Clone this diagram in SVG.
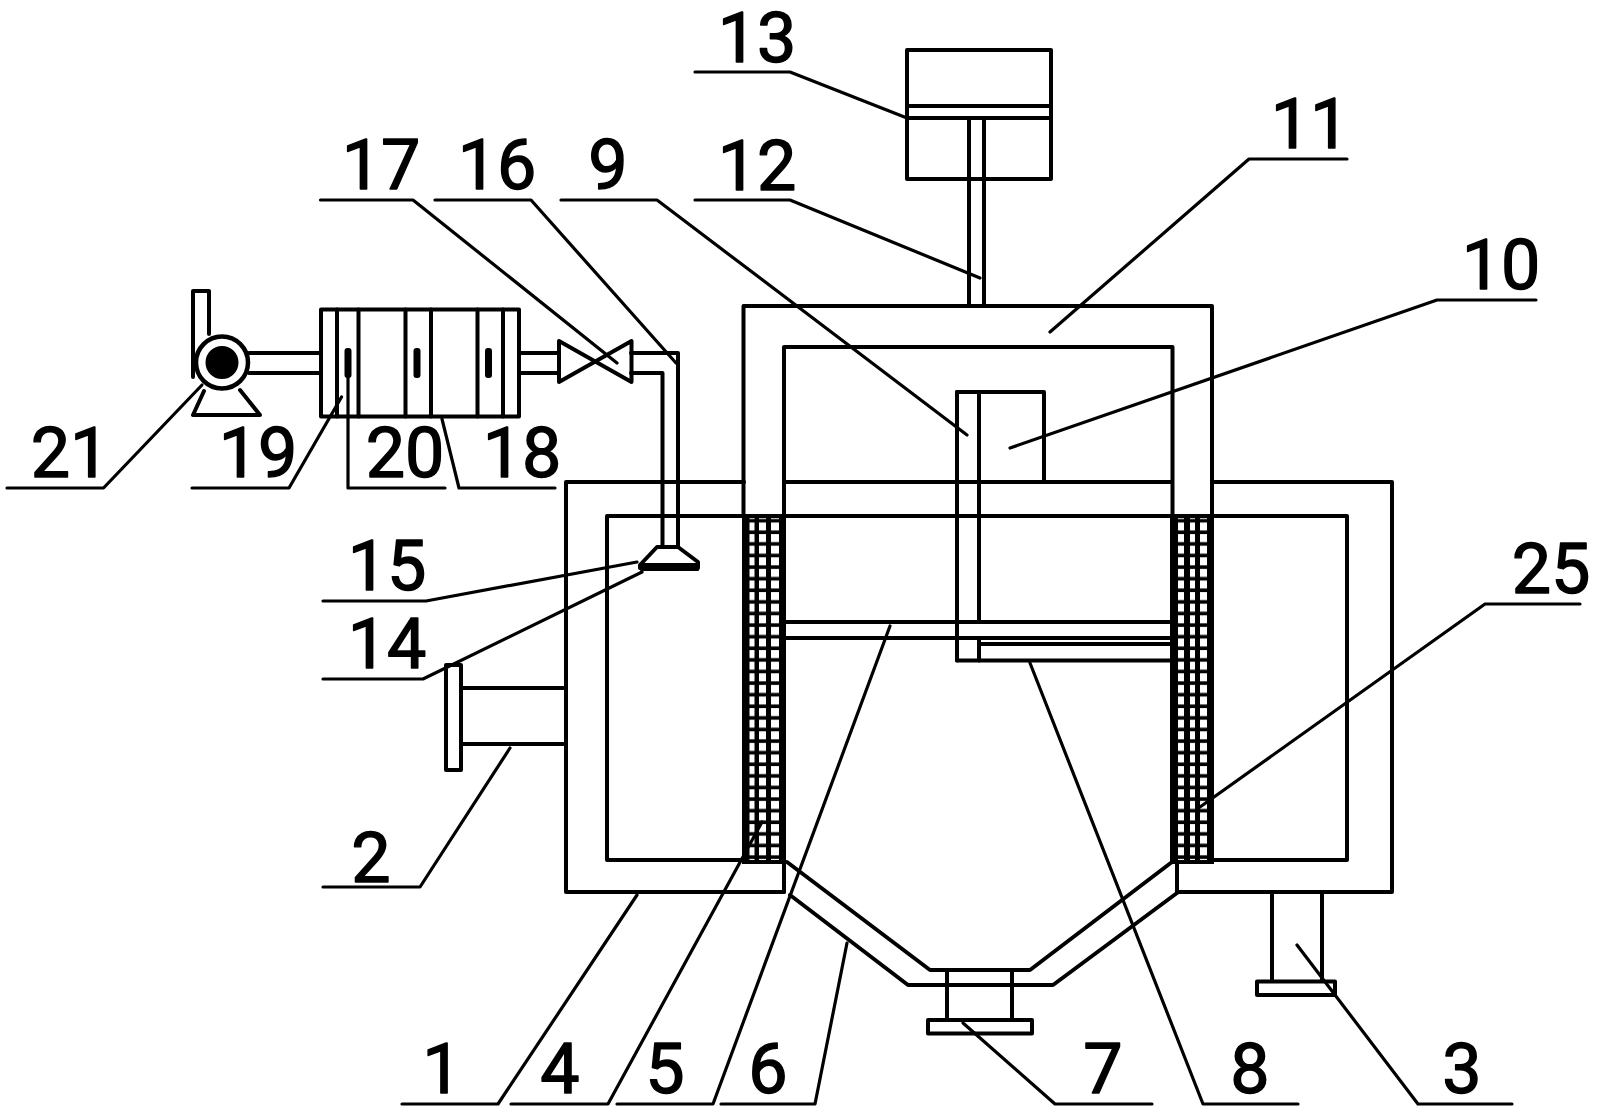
<svg xmlns="http://www.w3.org/2000/svg" width="1601" height="1113" viewBox="0 0 1601 1113">
<style>
.s{fill:none;stroke:#000;stroke-width:4;stroke-linejoin:round;stroke-linecap:round}
.k{fill:#000;stroke:#000;stroke-width:2;stroke-linejoin:round}
.l{fill:none;stroke:#000;stroke-width:3.2;stroke-linejoin:round;stroke-linecap:round}
.t{font-family:"Roboto","Liberation Sans",Arial,sans-serif;font-size:70px;fill:#000;text-anchor:middle;stroke:#000;stroke-width:1.4;stroke-linejoin:round}
</style>
<defs>
<pattern id="meshL" patternUnits="userSpaceOnUse" x="744" y="520.5" width="40" height="11.6">
<rect width="40" height="11.6" fill="#000"/>
<rect x="5.5" y="2" width="5" height="8" fill="#fff"/><rect x="15" y="2" width="7" height="8" fill="#fff"/><rect x="27" y="2" width="8" height="8" fill="#fff"/>
</pattern>
<pattern id="meshR" patternUnits="userSpaceOnUse" x="1172" y="520.5" width="40" height="11.6">
<rect width="40" height="11.6" fill="#000"/>
<rect x="6" y="2" width="6" height="8" fill="#fff"/><rect x="18" y="2" width="5" height="8" fill="#fff"/><rect x="28" y="2" width="7" height="8" fill="#fff"/>
</pattern>
</defs>
<rect width="1601" height="1113" fill="#fff"/>
<g id="tank-1">
<path class="s" d="M744 482H566V892H784M784 482H1172M1212 482H1392V892H1177"/>
<path class="s" d="M744 860H607V516H1347V860H1212"/>
</g>
<g id="inlet-2">
<rect class="s" x="446" y="665" width="15" height="105"/>
<path class="s" d="M461 688H566M461 744H566"/>
</g>
<g id="leg-3">
<path class="s" d="M1272 892V981M1322 892V981"/>
<rect class="s" x="1257" y="981.500" width="78" height="13.500"/>
</g>
<g id="mesh-4">
<rect x="744" y="516" width="40" height="346" fill="url(#meshL)" stroke="#000" stroke-width="4"/>
</g>
<g id="mesh-25">
<rect x="1172" y="516" width="40" height="346" fill="url(#meshR)" stroke="#000" stroke-width="4"/>
</g>
<g id="plate-5">
<path class="s" d="M784 622H1172M784 638H1172"/>
</g>
<g id="hopper-6">
<path class="s" d="M784 860V892M1177 893V862M787 862L930 970H1030L1172 862M790 895L908 985H1053L1177 893"/>
</g>
<g id="outlet-7">
<path class="s" d="M947 970V1020M1012 970V1020"/>
<rect class="s" x="928" y="1020" width="104" height="13.500"/>
</g>
<g id="scraper-8">
<path class="s" d="M979 644H1172M957 660.500H1172"/>
</g>
<g id="shaft-9">
<path class="s" d="M957 392V660.500M979 392V622M979 638V660.500"/>
</g>
<g id="motor-10">
<path class="s" d="M957 392H1044V482"/>
</g>
<g id="frame-11">
<path class="s" d="M743.500 516V306H1212V516M784 516V347H1172.500V516"/>
</g>
<g id="rod-12">
<path class="s" d="M969 118V306M984 118V306"/>
</g>
<g id="cylinder-13">
<rect class="s" x="907" y="50" width="144" height="129"/>
<path class="s" d="M907 106H1051M907 118H1051"/>
</g>
<g id="nozzle-14">
<path class="s" d="M657 547H678L698 562V568H640V565Z"/>
<rect class="k" x="641" y="564" width="57" height="6"/>
</g>
<g id="pipe-15">
<path class="s" d="M631 353H678V547M631 373H662.500V547"/>
</g>
<g id="valve-17">
<path class="s" d="M559 341V382L631.500 341V382Z"/>
</g>
<g id="filter-18">
<rect class="s" x="321" y="309.500" width="198" height="107"/>
<path class="s" d="M337 309.500V416.500M358.500 309.500V416.500M405.500 309.500V416.500M431 309.500V416.500M477.500 309.500V416.500M503 309.500V416.500"/>
<path class="s" d="M519 353H559M519 373H559"/>
</g>
<g id="marks-20">
<rect class="k" x="345.500" y="349" width="5" height="28" rx="2"/>
<rect class="k" x="414.500" y="349" width="5" height="28" rx="2"/>
<rect class="k" x="486" y="349" width="5" height="28" rx="2"/>
</g>
<g id="pump-21">
<path class="s" d="M193 377V291H209V334"/>
<path class="s" d="M204 391L193 415H260L240 390"/>
<circle cx="222" cy="362.500" r="26" fill="#fff" stroke="#000" stroke-width="4.500"/>
<circle class="k" cx="222" cy="362.500" r="15.500"/>
<path class="s" d="M249 353H321M249 373H321"/>
</g>
<g id="connectors">
<path class="l" d="M402 1104H498L637 895"/>
<path class="l" d="M323 887H420L510 748"/>
<path class="l" d="M1418 1104H1512M1418 1104L1297 945"/>
<path class="l" d="M511 1104H608L762 822"/>
<path class="l" d="M617 1104H713L890 626"/>
<path class="l" d="M721 1104H815L847 943"/>
<path class="l" d="M1152 1104H1055L963 1023"/>
<path class="l" d="M1298 1104H1203L1030 663"/>
<path class="l" d="M561 200H657L967 435"/>
<path class="l" d="M1536 300H1437L1010 448"/>
<path class="l" d="M1347 159H1249L1050 332"/>
<path class="l" d="M695 200H790L980 278"/>
<path class="l" d="M695 72H790L907 118"/>
<path class="l" d="M323 679H423L642 572"/>
<path class="l" d="M323 601H426L637 562"/>
<path class="l" d="M435 200H531L676 363"/>
<path class="l" d="M320.500 200H413L617 363"/>
<path class="l" d="M555 488H459L442 419"/>
<path class="l" d="M192 488H289L341.500 397"/>
<path class="l" d="M445 488H348V377"/>
<path class="l" d="M7 488H103.500L202 385"/>
<path class="l" d="M1580 604H1485L1200 807"/>
</g>
<g id="labels">
<text class="t" x="757" y="62">13</text>
<text class="t" x="1310" y="148">11</text>
<text class="t" x="757" y="190">12</text>
<text class="t" x="381" y="189">17</text>
<text class="t" x="497" y="189">16</text>
<text class="t" x="608" y="189">9</text>
<text class="t" x="1501" y="289">10</text>
<text class="t" x="70" y="477">21</text>
<text class="t" x="258" y="477">19</text>
<text class="t" x="405" y="477">20</text>
<text class="t" x="522" y="477">18</text>
<text class="t" x="387" y="590">15</text>
<text class="t" x="387" y="668">14</text>
<text class="t" x="1551" y="593">25</text>
<text class="t" x="371" y="882">2</text>
<text class="t" x="442" y="1093">1</text>
<text class="t" x="560" y="1093">4</text>
<text class="t" x="665" y="1093">5</text>
<text class="t" x="768" y="1093">6</text>
<text class="t" x="1103" y="1093">7</text>
<text class="t" x="1250" y="1093">8</text>
<text class="t" x="1462" y="1093">3</text>
</g>
</svg>
